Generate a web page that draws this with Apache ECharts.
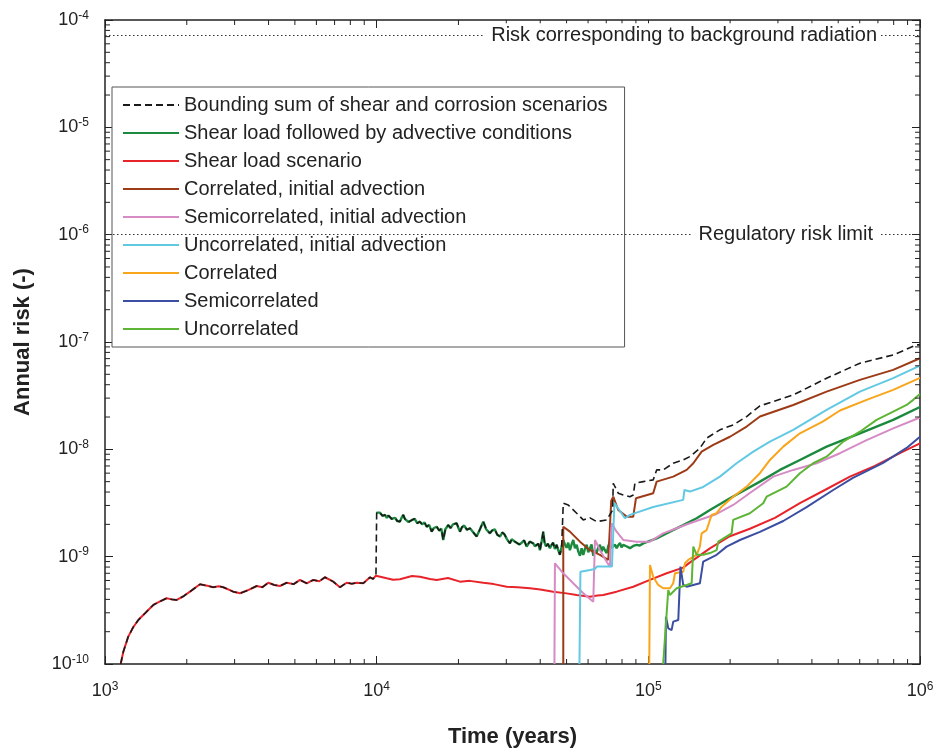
<!DOCTYPE html>
<html lang="en">
<head>
<meta charset="UTF-8">
<title>Annual risk</title>
<style>
  html, body { margin: 0; padding: 0; background: #fff; }
  #main { width: 935px; height: 749px; }
</style>
</head>
<body>
<div id="main"></div>
<script src="https://cdn.jsdelivr.net/npm/echarts@6.0.0/dist/echarts.min.js"></script>
<script>
// [time (years), annual risk]
var earlyRisk = [[1142,1.0e-10],[1168,1.3e-10],[1218,1.8e-10],[1270,2.2e-10],[1326,2.57e-10],[1410,3.0e-10],[1506,3.55e-10],[1600,3.85e-10],[1687,4.1e-10],[1760,4.0e-10],[1836,3.95e-10],[1950,4.3e-10],[2055,4.72e-10],[2237,5.53e-10],[2380,5.35e-10],[2503,5.19e-10],[2620,5.3e-10],[2726,5.19e-10],[2967,4.72e-10],[3140,4.56e-10],[3380,4.9e-10],[3617,5.33e-10],[3800,5.2e-10],[3990,5.72e-10],[4200,5.45e-10],[4407,5.33e-10],[4665,5.72e-10],[4950,5.55e-10],[5220,6.07e-10],[5525,5.65e-10],[5844,6.07e-10],[6150,5.9e-10],[6451,6.43e-10],[6923,5.85e-10],[7326,5.19e-10],[7755,5.72e-10],[8100,5.6e-10],[8440,5.72e-10],[8929,5.65e-10],[9449,6.43e-10],[9700,6.2e-10],[9940,6.65e-10]];
var shearLate = [[1.089e4,6.29e-10],[1.15e4,6.1e-10],[1.218e4,6.16e-10],[1.349e4,6.61e-10],[1.443e4,6.51e-10],[1.571e4,6.2e-10],[1.663e4,6.07e-10],[1.83e4,6.33e-10],[2.026e4,5.85e-10],[2.2e4,5.95e-10],[2.468e4,5.72e-10],[2.7e4,5.55e-10],[3.009e4,5.25e-10],[3.3e4,5.2e-10],[3.667e4,5.08e-10],[4.0e4,4.95e-10],[4.467e4,4.72e-10],[5.0e4,4.55e-10],[5.447e4,4.4e-10],[6.099e4,4.24e-10],[6.5e4,4.35e-10],[6.823e4,4.4e-10],[7.643e4,4.72e-10],[8.8e4,5.25e-10],[1.014e5,6.07e-10],[1.168e5,7.0e-10],[1.344e5,7.9e-10],[1.42e5,8.8e-10],[1.69e5,1.2e-9],[1.997e5,1.55e-9],[2.365e5,1.82e-9],[2.924e5,2.3e-9],[3.614e5,3.15e-9],[4.466e5,4.18e-9],[5.521e5,5.57e-9],[6.823e5,7.0e-9],[8.433e5,9.2e-9],[1e6,1.135e-8]];
var advMid = [[1.0e4,2.57e-9],[1.015e4,2.5e-9],[1.028e4,2.57e-9],[1.05e4,2.4e-9],[1.073e4,2.45e-9],[1.09e4,2.3e-9],[1.105e4,2.42e-9],[1.119e4,2.36e-9],[1.135e4,2.25e-9],[1.151e4,2.2e-9],[1.17e4,2.3e-9],[1.19e4,2.15e-9],[1.218e4,2.12e-9],[1.235e4,2.3e-9],[1.253e4,2.45e-9],[1.27e4,2.25e-9],[1.29e4,2.32e-9],[1.31e4,2.1e-9],[1.327e4,2.05e-9],[1.35e4,2.2e-9],[1.38e4,2.25e-9],[1.41e4,2.05e-9],[1.443e4,2.12e-9],[1.47e4,2.0e-9],[1.5e4,2.08e-9],[1.528e4,1.9e-9],[1.56e4,1.98e-9],[1.594e4,1.71e-9],[1.625e4,1.85e-9],[1.663e4,1.9e-9],[1.7e4,1.75e-9],[1.73e4,1.82e-9],[1.758e4,1.43e-9],[1.79e4,1.8e-9],[1.834e4,1.97e-9],[1.87e4,1.85e-9],[1.91e4,2.0e-9],[1.97e4,2.05e-9],[2.0e4,1.85e-9],[2.026e4,1.71e-9],[2.06e4,1.88e-9],[2.1e4,1.95e-9],[2.15e4,1.78e-9],[2.205e4,1.84e-9],[2.27e4,1.68e-9],[2.333e4,1.54e-9],[2.4e4,1.8e-9],[2.468e4,2.12e-9],[2.53e4,1.8e-9],[2.612e4,1.65e-9],[2.66e4,1.75e-9],[2.72e4,1.8e-9],[2.78e4,1.6e-9],[2.843e4,1.54e-9],[2.9e4,1.68e-9],[2.95e4,1.62e-9],[3.02e4,1.45e-9],[3.094e4,1.33e-9],[3.14e4,1.45e-9],[3.18e4,1.5e-9],[3.23e4,1.38e-9],[3.276e4,1.43e-9],[3.35e4,1.3e-9],[3.42e4,1.35e-9],[3.49e4,1.42e-9],[3.565e4,1.24e-9],[3.66e4,1.38e-9],[3.771e4,1.33e-9],[3.82e4,1.25e-9],[3.88e4,1.2e-9],[3.94e4,1.32e-9],[3.99e4,1.15e-9],[4.05e4,1.4e-9],[4.104e4,1.71e-9],[4.15e4,1.35e-9],[4.2e4,1.25e-9],[4.27e4,1.32e-9],[4.343e4,1.2e-9],[4.4e4,1.28e-9],[4.46e4,1.35e-9],[4.53e4,1.18e-9],[4.597e4,1.29e-9],[4.66e4,1.15e-9],[4.727e4,1.04e-9],[4.796e4,1.24e-9]];
var advLate = [[4.863e4,1.43e-9],[4.93e4,1.3e-9],[5.002e4,1.21e-9],[5.07e4,1.35e-9],[5.145e4,1.15e-9],[5.22e4,1.3e-9],[5.292e4,1.43e-9],[5.37e4,1.2e-9],[5.447e4,1.29e-9],[5.52e4,1.12e-9],[5.602e4,1.02e-9],[5.68e4,1.2e-9],[5.761e4,1.04e-9],[5.84e4,1.18e-9],[5.929e4,1.29e-9],[6.01e4,1.1e-9],[6.099e4,1.2e-9],[6.18e4,1.3e-9],[6.272e4,1.02e-9],[6.36e4,1.15e-9],[6.452e4,1.09e-9],[6.54e4,1.22e-9],[6.636e4,1.29e-9],[6.73e4,1.12e-9],[6.823e4,1.24e-9],[6.92e4,1.15e-9],[7.025e4,1.08e-9],[7.12e4,1.25e-9],[7.222e4,1.38e-9],[7.32e4,1.2e-9],[7.427e4,1.15e-9],[7.53e4,1.3e-9],[7.643e4,1.2e-9],[7.75e4,1.28e-9],[7.862e4,1.34e-9],[7.97e4,1.22e-9],[8.084e4,1.29e-9],[8.3e4,1.25e-9],[8.557e4,1.2e-9],[8.8e4,1.26e-9],[9.057e4,1.29e-9],[9.3e4,1.27e-9],[9.577e4,1.33e-9],[1.073e5,1.48e-9],[1.201e5,1.71e-9],[1.344e5,1.97e-9],[1.506e5,2.28e-9],[1.686e5,2.72e-9],[1.997e5,3.5e-9],[2.575e5,5.0e-9],[3.05e5,6.43e-9],[3.614e5,7.96e-9],[4.531e5,1.06e-8],[6.008e5,1.41e-8],[7.967e5,1.88e-8],[1e6,2.48e-8]];
var boundLate = [[4.863e4,3.15e-9],[5.073e4,3.03e-9],[5.447e4,2.54e-9],[5.761e4,2.2e-9],[6.1e4,2.3e-9],[6.452e4,2.12e-9],[7.025e4,2.2e-9],[7.39e4,2.72e-9],[7.427e4,4.83e-9],[7.749e4,3.9e-9],[8.084e4,3.76e-9],[8.557e4,3.62e-9],[8.8e4,3.76e-9],[8.927e4,4.83e-9],[9.577e4,5.0e-9],[1.042e5,5.19e-9],[1.073e5,6.43e-9],[1.134e5,6.43e-9],[1.235e5,7.42e-9],[1.344e5,7.96e-9],[1.422e5,8.55e-9],[1.548e5,1.024e-8],[1.639e5,1.27e-8],[1.834e5,1.52e-8],[2.053e5,1.69e-8],[2.301e5,2.02e-8],[2.575e5,2.54e-8],[3.415e5,3.21e-8],[4.531e5,4.6e-8],[6.008e5,6.34e-8],[7.967e5,7.58e-8],[9.718e5,9.4e-8],[1e6,9.4e-8]];
var corrInit = [[4.863e4,1e-10],[4.863e4,1.9e-9],[5.145e4,1.71e-9],[5.602e4,1.38e-9],[6.099e4,1.15e-9],[6.636e4,1.04e-9],[7.12e4,9.32e-10],[7.3e4,3.3e-9],[7.427e4,3.62e-9],[7.749e4,2.72e-9],[8.32e4,2.36e-9],[8.8e4,2.36e-9],[9.003e4,3.5e-9],[1.042e5,3.9e-9],[1.073e5,5.0e-9],[1.235e5,5.57e-9],[1.384e5,6.43e-9],[1.464e5,7.42e-9],[1.571e5,9.52e-9],[1.734e5,1.1e-8],[1.997e5,1.31e-8],[2.301e5,1.63e-8],[2.575e5,2.02e-8],[3.415e5,2.59e-8],[4.531e5,3.45e-8],[6.008e5,4.44e-8],[7.967e5,5.5e-8],[1e6,7.06e-8]];
var semiInit = [[4.512e4,1e-10],[4.531e4,8.68e-10],[4.863e4,7.0e-10],[5.292e4,5.65e-10],[5.761e4,4.56e-10],[6.271e4,3.81e-10],[6.361e4,1.43e-9],[6.636e4,1.15e-9],[7.025e4,8.98e-10],[7.222e4,8.07e-10],[7.327e4,2.05e-9],[7.643e4,1.71e-9],[8.084e4,1.43e-9],[9.057e4,1.38e-9],[1.014e5,1.38e-9],[1.134e5,1.65e-9],[1.271e5,1.84e-9],[1.422e5,2.05e-9],[1.784e5,2.5e-9],[2.053e5,3.03e-9],[2.365e5,3.92e-9],[2.882e5,5.57e-9],[3.415e5,6.43e-9],[4.164e5,7.42e-9],[5.074e5,9.2e-9],[6.361e5,1.22e-8],[7.967e5,1.57e-8],[1e6,1.98e-8]];
var uncorrInit = [[5.578e4,1e-10],[5.623e4,7.25e-10],[6.099e4,7.52e-10],[6.361e4,7.68e-10],[6.47e4,8.11e-10],[7.345e4,8.11e-10],[7.502e4,3.15e-9],[7.6e4,3.15e-9],[7.971e4,2.54e-9],[8.2e4,2.28e-9],[8.554e4,2.45e-9],[1.042e5,2.9e-9],[1.344e5,3.38e-9],[1.358e5,4.18e-9],[1.422e5,4.04e-9],[1.592e5,4.46e-9],[1.834e5,5.57e-9],[2.113e5,7.42e-9],[2.434e5,9.52e-9],[2.803e5,1.18e-8],[3.415e5,1.52e-8],[4.531e5,2.33e-8],[6.008e5,3.45e-8],[7.967e5,4.6e-8],[1e6,6.03e-8]];
var corr = [[1.008e5,1e-10],[1.014e5,8.37e-10],[1.042e5,6.51e-10],[1.087e5,5.45e-10],[1.134e5,5.08e-10],[1.201e5,5.08e-10],[1.235e5,5.65e-10],[1.253e5,7.0e-10],[1.344e5,7.25e-10],[1.364e5,8.68e-10],[1.402e5,9.32e-10],[1.506e5,1.04e-9],[1.548e5,1.24e-9],[1.571e5,1.65e-9],[1.639e5,1.77e-9],[1.71e5,2.45e-9],[1.784e5,2.54e-9],[1.862e5,2.92e-9],[2.053e5,3.62e-9],[2.301e5,4.49e-9],[2.575e5,5.99e-9],[2.803e5,7.96e-9],[3.138e5,1.06e-8],[3.614e5,1.41e-8],[4.4e5,1.82e-8],[5.074e5,2.3e-8],[6.361e5,2.89e-8],[7.967e5,3.58e-8],[1e6,4.63e-8]];
var semi = [[1.156e5,1e-10],[1.161e5,2.76e-10],[1.184e5,2.15e-10],[1.218e5,2.07e-10],[1.235e5,2.48e-10],[1.289e5,2.57e-10],[1.313e5,8.07e-10],[1.344e5,5.45e-10],[1.384e5,5.25e-10],[1.548e5,5.65e-10],[1.592e5,8.98e-10],[1.784e5,1.04e-9],[1.942e5,1.24e-9],[2.174e5,1.43e-9],[2.575e5,1.7e-9],[3.138e5,2.15e-9],[3.825e5,2.9e-9],[4.793e5,4.18e-9],[5.664e5,5.41e-9],[7.319e5,7.47e-9],[8.928e5,1.03e-8],[1e6,1.31e-8]];
var uncorr = [[1.134e5,1e-10],[1.184e5,4.89e-10],[1.201e5,4.4e-10],[1.271e5,5.08e-10],[1.384e5,5.45e-10],[1.444e5,5.65e-10],[1.464e5,1.24e-9],[1.506e5,1.04e-9],[1.593e5,1.04e-9],[1.686e5,1.08e-9],[1.784e5,1.15e-9],[1.809e5,1.38e-9],[2.025e5,1.65e-9],[2.053e5,2.2e-9],[2.365e5,2.54e-9],[2.648e5,3.15e-9],[2.725e5,3.62e-9],[3.228e5,4.49e-9],[3.614e5,5.99e-9],[4.045e5,7.42e-9],[4.531e5,8.55e-9],[5.217e5,1.18e-8],[6.008e5,1.46e-8],[6.921e5,1.88e-8],[7.967e5,2.25e-8],[8.928e5,2.59e-8],[9.441e5,2.89e-8],[1e6,3.28e-8]];

var bgRadiation = 7.2e-5;   // risk from background radiation
var regLimit = 1e-6;        // regulatory risk limit

var names = ['Bounding sum of shear and corrosion scenarios', 'Shear load followed by advective conditions',
  'Shear load scenario', 'Correlated, initial advection', 'Semicorrelated, initial advection',
  'Uncorrelated, initial advection', 'Correlated', 'Semicorrelated', 'Uncorrelated'];

var X_MIN = 1e3, X_MAX = 1e6, Y_MIN = 1e-10, Y_MAX = 1e-4;
var FONT = "'Liberation Sans', Arial, Helvetica, sans-serif";

// minor tick values 2..9 x 10^n
var minorX = [], minorY = [];
for (var e = 3; e < 6; e++) for (var m = 2; m <= 9; m++) minorX.push([m * Math.pow(10, e), Y_MIN]);
for (var e2 = -10; e2 < -4; e2++) for (var m2 = 2; m2 <= 9; m2++) minorY.push([X_MIN, m2 * Math.pow(10, e2)]);

function powLabel(v) {
  var e = Math.round(Math.log10(v));
  return '{b|10}{s|' + e + '}';
}
var labelRich = {
  b: { fontSize: 18, fontFamily: FONT, color: '#222' },
  s: { fontSize: 12, fontFamily: FONT, color: '#222', padding: [0, 0, 9, 0] }
};

var axisBase = {
  type: 'log', logBase: 10,
  axisLine: { lineStyle: { color: '#222', width: 1.5 } },
  axisTick: { inside: true, length: 8, lineStyle: { color: '#222', width: 1 } },
  splitLine: { show: false }
};
function ax(extra) { return Object.assign({}, axisBase, extra); }

function line(name, data, color, extra) {
  return Object.assign({
    name: name, type: 'line', data: data, showSymbol: false, symbol: 'none',
    lineStyle: { color: color, width: 2 }, itemStyle: { color: color }, z: 3
  }, extra || {});
}

function tickLine(x1, y1, x2, y2) {
  return { type: 'line', shape: { x1: x1, y1: y1, x2: x2, y2: y2 }, style: { stroke: '#222', lineWidth: 1 } };
}

var chart = echarts.init(document.getElementById('main'));
chart.setOption({
  animation: false,
  backgroundColor: '#fff',
  textStyle: { fontFamily: FONT },
  grid: { left: 105, right: 15, top: 20, bottom: 85, outerBoundsMode: 'none', containLabel: false },
  legend: {
    orient: 'vertical', left: 112, top: 87, data: names, selectedMode: false,
    itemWidth: 56, itemHeight: 14, itemGap: 8, padding: [8, 17, 8, 10],
    itemStyle: { opacity: 0 },
    backgroundColor: '#fff', borderColor: '#555', borderWidth: 1,
    textStyle: { fontSize: 20, lineHeight: 20, fontFamily: FONT, color: '#222' }
  },
  xAxis: [
    ax({ min: X_MIN, max: X_MAX, position: 'bottom',
      axisLabel: { formatter: powLabel, rich: labelRich, margin: 17 },
      name: 'Time (years)', nameLocation: 'middle', nameGap: 62,
      nameTextStyle: { fontSize: 22, fontWeight: 'bold', fontFamily: FONT, color: '#222' } }),
    ax({ min: X_MIN, max: X_MAX, position: 'top', axisLabel: { show: false } })
  ],
  yAxis: [
    ax({ min: Y_MIN, max: Y_MAX, position: 'left',
      axisLabel: { formatter: powLabel, rich: labelRich, margin: 16 },
      name: 'Annual risk (-)', nameLocation: 'middle', nameGap: 71,
      nameTextStyle: { fontSize: 22, fontWeight: 'bold', fontFamily: FONT, color: '#222' } }),
    ax({ min: Y_MIN, max: Y_MAX, position: 'right', axisLabel: { show: false } })
  ],
  series: [
    {
      name: 'ref', type: 'line', data: [], silent: true,
      markLine: {
        symbol: 'none', silent: true, animation: false,
        lineStyle: { type: [1.5, 2.5], color: '#333', width: 1.2 },
        label: { show: true, position: 'insideEnd', distance: 40, fontSize: 20, fontFamily: FONT,
          color: '#222', backgroundColor: '#fff', padding: [2, 3, 2, 7] },
        data: [
          [{ coord: [X_MIN, bgRadiation], label: { formatter: 'Risk corresponding to background radiation' } },
           { coord: [X_MAX, bgRadiation] }],
          [{ coord: [X_MIN, regLimit], label: { formatter: 'Regulatory risk limit', padding: [2, 7, 2, 7] } },
           { coord: [X_MAX, regLimit] }]
        ]
      }
    },
    line(names[2], earlyRisk.concat(shearLate), '#e8232a'),
    line(names[1], advMid.concat(advLate), '#1b8a3e', { lineStyle: { color: '#1b8a3e', width: 2.4 } }),
    line(names[3], corrInit, '#9c3b16'),
    line(names[4], semiInit, '#d68bc4'),
    line(names[5], uncorrInit, '#62c9e3'),
    line(names[6], corr, '#f9a51b'),
    line(names[7], semi, '#3b4ea2'),
    line(names[8], uncorr, '#5db535'),
    line(names[0], earlyRisk.concat(advMid, boundLate), '#1a1a1a',
      { lineStyle: { color: '#1a1a1a', width: 1.6, type: [7, 4] }, z: 4 }),
    {
      type: 'custom', silent: true, data: minorX, encode: { x: 0, y: 1 }, z: 5,
      renderItem: function (params, api) {
        var v = api.value(0);
        var b = api.coord([v, Y_MIN]), t = api.coord([v, Y_MAX]);
        return { type: 'group', children: [tickLine(b[0], b[1], b[0], b[1] - 5), tickLine(t[0], t[1], t[0], t[1] + 5)] };
      }
    },
    {
      type: 'custom', silent: true, data: minorY, encode: { x: 0, y: 1 }, z: 5,
      renderItem: function (params, api) {
        var v = api.value(1);
        var l = api.coord([X_MIN, v]), r = api.coord([X_MAX, v]);
        return { type: 'group', children: [tickLine(l[0], l[1], l[0] + 5, l[1]), tickLine(r[0], r[1], r[0] - 5, r[1])] };
      }
    }
  ]
});
</script>
</body>
</html>
